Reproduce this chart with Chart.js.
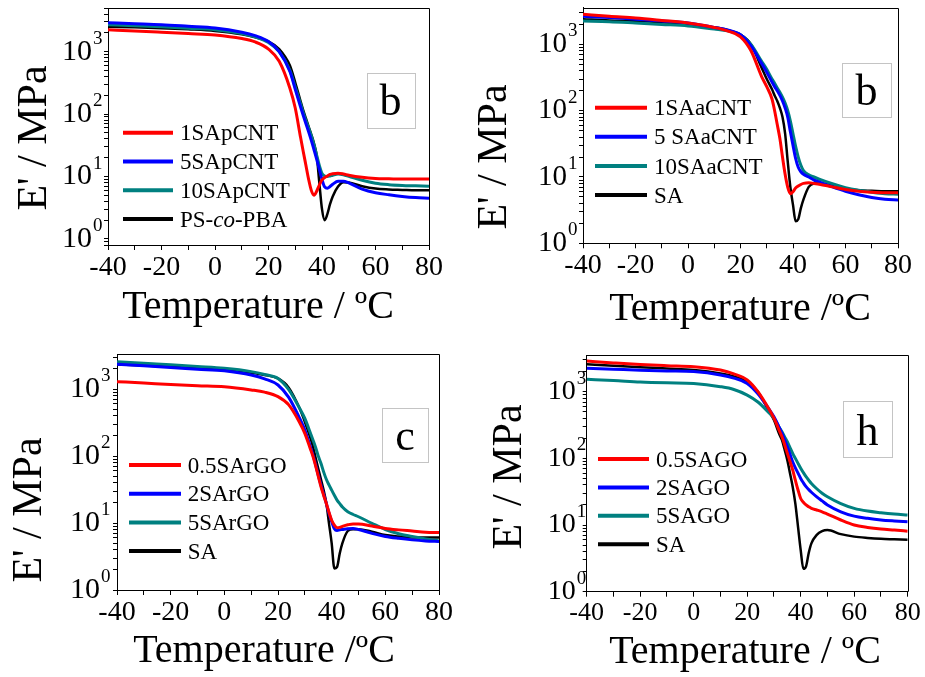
<!DOCTYPE html>
<html>
<head>
<meta charset="utf-8">
<title>E' vs Temperature</title>
<script src="https://cdn.jsdelivr.net/npm/chart.js@4/dist/chart.umd.min.js"></script>
<style>
html, body { margin: 0; padding: 0; background: #ffffff; }
#page { position: relative; width: 925px; height: 677px; overflow: hidden; background: #ffffff; }
#page canvas { position: absolute; left: 0; top: 0; }
</style>
</head>
<body>
<div id="page">
<canvas id="chartPCNT" width="925" height="677"></canvas>
<canvas id="chartACNT" width="925" height="677"></canvas>
<canvas id="chartRGO" width="925" height="677"></canvas>
<canvas id="chartGO" width="925" height="677"></canvas>
</div>
<script>
// ---------------- DATA ----------------
const temperature = [-40,-30,-20,-10,0, 10,15,20,24,28, 30,32,33,34,35, 36,37,38,39,40, 41,42,43,44,46, 48,50,55,60,65, 70,75,80];

// panel 1 (b): pCNT
const labelsPCNT = ['1SApCNT', '5SApCNT', '10SApCNT', 'PS-co-PBA'];
const e_1SApCNT  = [2240,2150,2050,1950,1850, 1620,1430,1100,700,260, 125,42,25,15,9, 6.0,5.0,5.8,7.3,8.8, 9.6,10.2,10.8,11.1,11.3, 11.0,10.5,9.7,9.3,9.2, 9.1,9.1,9.1];
const e_5SApCNT  = [2900,2800,2700,2550,2400, 2050,1800,1450,1000,480, 250,130,95,70,52, 38,27,19,13,9.0, 6.8,6.5,6.9,7.5,8.4, 8.4,7.9,6.3,5.5,5.1, 4.8,4.6,4.5];
const e_10SApCNT = [2700,2600,2500,2380,2250, 1950,1720,1400,1000,500, 270,145,105,78,60, 45,32,22,15,11.2, 10.2,10.0,10.2,10.5,11.0, 10.7,10.1,8.7,7.8,7.4, 7.2,7.1,7.0];
const e_PScoPBA  = [2500,2450,2380,2280,2150, 1900,1700,1450,1100,600, 320,160,115,85,63, 47,34,22,8,3.0, 2.0,2.5,3.6,4.8,6.9, 8.1,8.0,7.0,6.4,6.2, 6.1,6.0,6.0];

// panel 2 (b): aCNT
const labelsACNT = ['1SAaCNT', '5 SAaCNT', '10SAaCNT', 'SA'];
const e_1SAaCNT  = [2850,2650,2500,2300,2100, 1800,1600,1300,800,330, 230,150,100,62,38, 20,11,7.0,5.6,6.0, 6.8,7.3,7.7,8.0,8.2, 8.0,7.8,7.1,6.5,6.1, 5.9,5.8,5.8];
const e_5SAaCNT  = [2650,2550,2400,2250,2100, 1800,1650,1400,950,520, 380,270,230,200,170, 140,110,80,48,30, 19,14,12,11,10, 9,8.4,7.1,6.1,5.4, 4.9,4.6,4.5];
const e_10SAaCNT = [2250,2200,2100,2000,1900, 1700,1600,1400,1000,560, 420,300,260,220,190, 160,130,100,70,45, 29,20,15,12.5,10.8, 10.0,9.3,7.9,6.9,6.3, 5.9,5.6,5.5];
const e_SA_aCNT  = [2400,2300,2250,2150,2000, 1800,1650,1400,1000,450, 300,210,170,140,110, 80,45,17,7.0,3.8, 2.15,2.3,3.4,4.6,7.1, 8.0,8.1,7.3,6.7,6.3, 6.2,6.1,6.1];

// panel 3 (c): rGO
const labelsRGO = ['0.5SArGO', '2SArGO', '5SArGO', 'SA'];
const e_05SArGO = [1290,1230,1170,1120,1080, 970,900,770,580,320, 218,130,100,72,50, 35,26,19.6,14.5,11, 9.3,8.5,8.6,8.9,9.4, 9.7,9.7,9.0,8.3,7.9, 7.6,7.3,7.2];
const e_2SArGO  = [2350,2220,2100,1980,1870, 1620,1420,1150,750,370, 245,140,105,75,52, 37,27,19.6,14,10.5, 8.2,7.7,7.9,8.0,8.2, 8.3,8.0,7.0,6.3,5.9, 5.6,5.4,5.3];
const e_5SArGO  = [2560,2420,2300,2170,2040, 1820,1650,1440,980,520, 365,225,175,135,100, 78,58,45,37,31, 26,22,19.5,17.3,14.7, 13.4,12.4,9.9,8.0,6.9, 6.3,5.8,5.4];
const e_SA_rGO  = [2330,2250,2150,2060,1960, 1750,1620,1440,1050,520, 325,190,140,95,65, 45,31,20,9.9,5.0, 2.1,2.2,3.5,5.0,7.6, 8.1,8.1,7.4,6.6,6.3, 6.1,6.1,6.1];

// panel 4 (h): GO
const labelsGO = ['0.5SAGO', '2SAGO', '5SAGO', 'SA'];
const e_05SAGO = [2880,2700,2550,2450,2370, 2110,1850,1500,1000,560, 400,260,211,160,119, 90,67,47,33.5,25, 22,20,18.8,17.8,16.8, 15.8,14.6,11.9,10,9.2, 8.7,8.4,8.1];
const e_2SAGO  = [2240,2170,2100,2050,2000, 1780,1600,1330,930,560, 420,290,237,190,150, 115,89,72,60,50, 43,37.6,34,31,26.5, 23,20,15.8,13.6,12.6, 11.9,11.5,11.2];
const e_5SAGO  = [1530,1470,1400,1360,1330, 1190,1080,890,700,490, 400,290,250,210,178, 145,119,100,84,71, 61,53,47,42,35, 30,26.6,21,17.8,16.2, 15.3,14.6,14.1];
const e_SA_GO  = [2570,2450,2330,2220,2110, 1880,1700,1410,1000,520, 375,230,188,135,94, 60,37.6,21,9.4,4.2, 2.2,2.4,3.8,5.3,7.1, 8.1,8.4,7.3,6.7,6.4, 6.2,6.1,6.0];

// axis ticks / labels
const xTickValues = [-40,-30,-20,-10,0,10,20,30,40,50,60,70,80];
const xTickLabels = [-40,-20,0,20,40,60,80];
const panelLetters = ['b', 'b', 'c', 'h'];
const xTitles = ['Temperature / \u00BAC', 'Temperature /\u00BAC', 'Temperature /\u00BAC', 'Temperature / \u00BAC'];
const yTitle = "E' / MPa";

// ---------------- STYLE / LAYOUT ----------------
const SERIF = "'Liberation Serif', 'Times New Roman', Times, serif";
const seriesColors = ['#ff0000', '#0000ff', '#008080', '#000000'];
const seriesWidths = [3, 3, 3, 2.5];
const W = 925, H = 677, YW = 75, XH = 45, TICK = 4;

const layouts = [
  { canvas: 'chartPCNT', plot: {l:108, t:8, r:429, b:245}, ymin: 0.8, ymax: 5000,
    yTickFont: 30, yPad: 12, supSize: 19, supRaise: 8, xTickFont: 28,
    xTitleX: 258, xTitleY: 318, yTitleX: 46, yTitleY: 138,
    leg: {x0:123, x1:173, tx:180, y0:132.7, dy:28.8},
    box: {l:366.7, t:72.7, w:47.6, h:54.6, tx:390.5, ty:115} },
  { canvas: 'chartACNT', plot: {l:583, t:7.5, r:898, b:243.3}, ymin: 1, ymax: 3600,
    yTickFont: 29, yPad: 12, supSize: 19, supRaise: 8, xTickFont: 28,
    xTitleX: 740, xTitleY: 320, yTitleX: 506, yTitleY: 157,
    leg: {x0:595, x1:647, tx:654, y0:107.7, dy:29.1},
    box: {l:842, t:63.3, w:49, h:54, tx:866.5, ty:105} },
  { canvas: 'chartRGO', plot: {l:117, t:354.3, r:439, b:590}, ymin: 1, ymax: 3300,
    yTickFont: 30, yPad: 13, supSize: 19, supRaise: 8, xTickFont: 28,
    xTitleX: 264, xTitleY: 662, yTitleX: 41, yTitleY: 510,
    leg: {x0:129, x1:181, tx:187.7, y0:465, dy:28.7},
    box: {l:382, t:408, w:46, h:54, tx:405, ty:450} },
  { canvas: 'chartGO', plot: {l:586.7, t:355, r:907.7, b:591.7}, ymin: 1, ymax: 3550,
    yTickFont: 28, yPad: 7, supSize: 19, supRaise: 8, xTickFont: 26,
    xTitleX: 745, xTitleY: 663, yTitleX: 521, yTitleY: 477,
    leg: {x0:598, x1:649, tx:656, y0:459, dy:28.4},
    box: {l:843, t:401, w:49, h:56, tx:867.5, ty:445} }
];

const panelSeries = [
  [e_1SApCNT, e_5SApCNT, e_10SApCNT, e_PScoPBA],
  [e_1SAaCNT, e_5SAaCNT, e_10SAaCNT, e_SA_aCNT],
  [e_05SArGO, e_2SArGO, e_5SArGO, e_SA_rGO],
  [e_05SAGO, e_2SAGO, e_5SAGO, e_SA_GO]
];
const panelLabels = [labelsPCNT, labelsACNT, labelsRGO, labelsGO];

function isDecade(v) {
  const l = Math.log10(v);
  return Math.abs(l - Math.round(l)) < 1e-9;
}
function logTickValues(min, max) {
  const out = [];
  for (let e = Math.floor(Math.log10(min)); e <= Math.ceil(Math.log10(max)); e++) {
    for (let m = 1; m <= 9; m++) {
      const v = m * Math.pow(10, e);
      if (v >= min * (1 - 1e-9) && v <= max * (1 + 1e-9)) out.push(v);
    }
  }
  return out;
}

function drawLegendLabel(ctx, text, x, y, size) {
  const normal = `${size}px ${SERIF}`;
  const italic = `italic ${size}px ${SERIF}`;
  if (text.includes('-co-')) {
    const [a, b] = text.split('-co-');
    const parts = [[a + '-', normal], ['co', italic], ['-' + b, normal]];
    let cx = x;
    parts.forEach(([t, f]) => { ctx.font = f; ctx.fillText(t, cx, y); cx += ctx.measureText(t).width; });
  } else {
    ctx.font = normal;
    ctx.fillText(text, x, y);
  }
}

const decorations = {
  id: 'decorations',
  afterDraw(chart, args, o) {
    const ctx = chart.ctx, ca = chart.chartArea, ys = chart.scales.y;
    ctx.save();
    // frame (top and right)
    ctx.strokeStyle = '#000'; ctx.lineWidth = 1;
    ctx.beginPath();
    const tY = Math.round(ca.top) + 0.5, rX = Math.round(ca.right) + 0.5;
    ctx.moveTo(ca.left, tY); ctx.lineTo(rX, tY);
    ctx.moveTo(rX, tY); ctx.lineTo(rX, ca.bottom);
    ctx.stroke();
    // exponents of decade labels
    ctx.fillStyle = '#000';
    ctx.font = `${o.supSize}px ${SERIF}`;
    ctx.textAlign = 'left'; ctx.textBaseline = 'alphabetic';
    const xr = ca.left - TICK - o.yPad + 1;
    ys.ticks.forEach(t => {
      if (isDecade(t.value)) {
        ctx.fillText(String(Math.round(Math.log10(t.value))), xr, ys.getPixelForValue(t.value) - o.supRaise);
      }
    });
    // axis titles
    ctx.textAlign = 'center';
    ctx.font = `40px ${SERIF}`;
    ctx.fillText(o.xTitle, o.xTitleX, o.xTitleY);
    ctx.save();
    ctx.translate(o.yTitleX, o.yTitleY);
    ctx.rotate(-Math.PI / 2);
    ctx.font = `42px ${SERIF}`;
    ctx.fillText(o.yTitle, 0, 0);
    ctx.restore();
    // legend
    ctx.textAlign = 'left';
    chart.data.datasets.forEach((ds, i) => {
      const y = o.leg.y0 + i * o.leg.dy;
      ctx.strokeStyle = ds.borderColor; ctx.lineWidth = 4;
      ctx.beginPath(); ctx.moveTo(o.leg.x0, y); ctx.lineTo(o.leg.x1, y); ctx.stroke();
      ctx.fillStyle = '#000';
      drawLegendLabel(ctx, ds.label, o.leg.tx, y + 7.6, 23);
    });
    // panel letter box
    ctx.strokeStyle = '#c4c4c4'; ctx.lineWidth = 1;
    ctx.strokeRect(Math.round(o.box.l) + 0.5, Math.round(o.box.t) + 0.5, Math.round(o.box.w), Math.round(o.box.h));
    ctx.fillStyle = '#000';
    ctx.textAlign = 'center';
    ctx.font = `44px ${SERIF}`;
    ctx.fillText(o.letter, o.box.tx, o.box.ty);
    ctx.restore();
  }
};

function makeChart(i) {
  const L = layouts[i];
  const datasets = panelSeries[i].map((vals, k) => ({
    label: panelLabels[i][k],
    data: temperature.map((t, j) => ({ x: t, y: vals[j] })),
    borderColor: seriesColors[k],
    backgroundColor: seriesColors[k],
    borderWidth: seriesWidths[k],
    pointRadius: 0,
    fill: false,
    cubicInterpolationMode: 'monotone'
  }));
  const yTicks = logTickValues(L.ymin, L.ymax);
  new Chart(document.getElementById(L.canvas), {
    type: 'line',
    data: { datasets },
    options: {
      responsive: false,
      animation: false,
      events: [],
      layout: { padding: { left: L.plot.l - YW, top: L.plot.t, right: W - L.plot.r, bottom: H - L.plot.b - XH } },
      scales: {
        x: {
          type: 'linear', min: -40, max: 80,
          afterBuildTicks: s => { s.ticks = xTickValues.map(v => ({ value: v })); },
          afterFit: s => { s.height = XH; s.paddingLeft = 0; s.paddingRight = 0; },
          ticks: {
            autoSkip: false, maxRotation: 0, padding: 1, color: '#000',
            font: { family: SERIF, size: L.xTickFont },
            callback: v => (xTickLabels.includes(v) ? String(v) : '')
          },
          grid: { drawOnChartArea: false, drawTicks: true, tickLength: 5, color: '#000', lineWidth: 1 },
          border: { display: true, color: '#000', width: 1 }
        },
        y: {
          type: 'logarithmic', min: L.ymin, max: L.ymax,
          afterBuildTicks: s => { s.ticks = yTicks.map(v => ({ value: v })); },
          afterFit: s => { s.width = YW; s.paddingTop = 0; s.paddingBottom = 0; },
          ticks: {
            autoSkip: false, padding: L.yPad, color: '#000',
            font: { family: SERIF, size: L.yTickFont },
            callback: v => (isDecade(v) ? '10' : '')
          },
          grid: { drawOnChartArea: false, drawTicks: true, tickLength: TICK, color: '#000', lineWidth: 1 },
          border: { display: true, color: '#000', width: 1 }
        }
      },
      plugins: {
        legend: { display: false },
        tooltip: { enabled: false },
        decorations: {
          supSize: L.supSize, supRaise: L.supRaise, yPad: L.yPad,
          xTitle: xTitles[i], yTitle: yTitle,
          xTitleX: L.xTitleX, xTitleY: L.xTitleY, yTitleX: L.yTitleX, yTitleY: L.yTitleY,
          leg: L.leg, box: L.box, letter: panelLetters[i]
        }
      }
    },
    plugins: [decorations]
  });
}

for (let i = 0; i < 4; i++) makeChart(i);
</script>
</body>
</html>
